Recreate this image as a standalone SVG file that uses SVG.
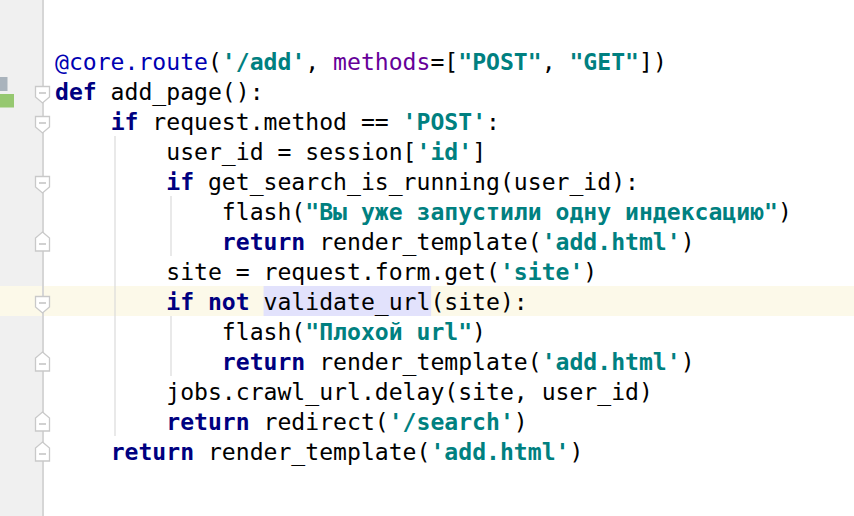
<svg xmlns="http://www.w3.org/2000/svg" width="854" height="516" viewBox="0 0 854 516" xml:space="preserve">
<style>
text { font-family: "DejaVu Sans Mono", "Liberation Mono", monospace; font-size: 23.1px; fill: #000000; white-space: pre; }
.k { fill: #000080; font-weight: bold; }
.s { fill: #008080; font-weight: bold; }
.d { fill: #0000B2; }
.p { fill: #660099; }
.guide { stroke: #dadada; stroke-width: 1.2; fill: none; }
.fold { fill: #ffffff; stroke: #c9c9c9; stroke-width: 1.3; }
.minus { stroke: #b8b8b8; stroke-width: 1.3; }
</style>
<rect x="0" y="0" width="854" height="516" fill="#ffffff"/>
<g id="gutter">
<rect x="0" y="0" width="42" height="516" fill="#f0f0f0"/>
<rect x="0" y="286" width="854" height="30" fill="#fcf9e9"/>
<rect x="42" y="0" width="2" height="516" fill="#d6d6d6"/>
<rect x="0" y="77" width="7.5" height="14" fill="#a9b3bc"/>
<rect x="0" y="94" width="14" height="13.5" fill="#96c870"/>
</g>
<g id="highlight">
<rect x="263.6" y="286" width="167.5" height="30" fill="#e2e2fc"/>
</g>
<g id="guides">
<line class="guide" x1="115" y1="136" x2="115" y2="436"/>
<line class="guide" x1="171" y1="196" x2="171" y2="256"/>
<line class="guide" x1="171" y1="316" x2="171" y2="376"/>
</g>
<g id="folds">
<g id="fold-l2"><path class="fold" d="M35.5,86.5 H49.5 V97 L42.5,103 L35.5,97 Z"/><line class="minus" x1="39" y1="93" x2="46" y2="93"/></g>
<g id="fold-l3"><path class="fold" d="M35.5,116.5 H49.5 V127 L42.5,133 L35.5,127 Z"/><line class="minus" x1="39" y1="123" x2="46" y2="123"/></g>
<g id="fold-l5"><path class="fold" d="M35.5,176.5 H49.5 V187 L42.5,193 L35.5,187 Z"/><line class="minus" x1="39" y1="183" x2="46" y2="183"/></g>
<g id="fold-l9"><path class="fold" d="M35.5,296.5 H49.5 V307 L42.5,313 L35.5,307 Z"/><line class="minus" x1="39" y1="303" x2="46" y2="303"/></g>
<g id="fold-l7"><path class="fold" d="M42.5,232 L49.5,238 V251 H35.5 V238 Z"/><line class="minus" x1="39" y1="244" x2="46" y2="244"/></g>
<g id="fold-l11"><path class="fold" d="M42.5,352 L49.5,358 V371 H35.5 V358 Z"/><line class="minus" x1="39" y1="364" x2="46" y2="364"/></g>
<g id="fold-l13"><path class="fold" d="M42.5,412 L49.5,418 V431 H35.5 V418 Z"/><line class="minus" x1="39" y1="424" x2="46" y2="424"/></g>
<g id="fold-l14"><path class="fold" d="M42.5,442 L49.5,448 V461 H35.5 V448 Z"/><line class="minus" x1="39" y1="454" x2="46" y2="454"/></g>
</g>
<g id="code">
<text x="55" y="70"><tspan class="d">@core.route</tspan>(<tspan class="s">'/add'</tspan>, <tspan class="p">methods</tspan>=[<tspan class="s">"POST"</tspan>, <tspan class="s">"GET"</tspan>])</text>
<text x="55" y="100"><tspan class="k">def</tspan> add_page():</text>
<text x="55" y="130">    <tspan class="k">if</tspan> request.method == <tspan class="s">'POST'</tspan>:</text>
<text x="55" y="160">        user_id = session[<tspan class="s">'id'</tspan>]</text>
<text x="55" y="190">        <tspan class="k">if</tspan> get_search_is_running(user_id):</text>
<text x="55" y="220">            flash(<tspan class="s">"Вы уже запустили одну индексацию"</tspan>)</text>
<text x="55" y="250">            <tspan class="k">return</tspan> render_template(<tspan class="s">'add.html'</tspan>)</text>
<text x="55" y="280">        site = request.form.get(<tspan class="s">'site'</tspan>)</text>
<text x="55" y="310">        <tspan class="k">if not</tspan> validate_url(site):</text>
<text x="55" y="340">            flash(<tspan class="s">"Плохой url"</tspan>)</text>
<text x="55" y="370">            <tspan class="k">return</tspan> render_template(<tspan class="s">'add.html'</tspan>)</text>
<text x="55" y="400">        jobs.crawl_url.delay(site, user_id)</text>
<text x="55" y="430">        <tspan class="k">return</tspan> redirect(<tspan class="s">'/search'</tspan>)</text>
<text x="55" y="460">    <tspan class="k">return</tspan> render_template(<tspan class="s">'add.html'</tspan>)</text>
</g>
</svg>
